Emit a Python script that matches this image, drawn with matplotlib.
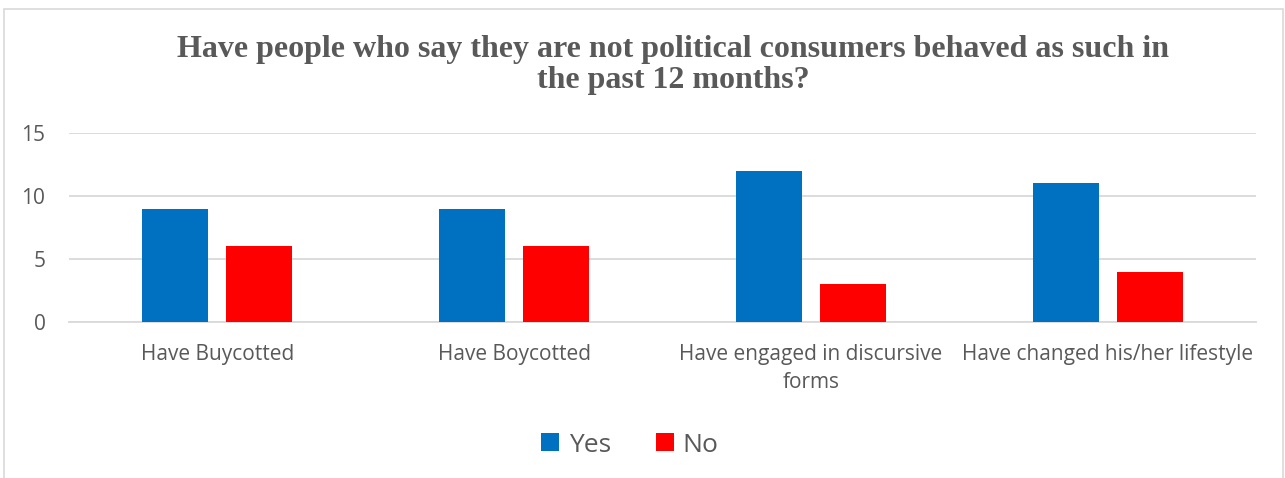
import matplotlib
matplotlib.use("Agg")
import matplotlib.pyplot as plt
from matplotlib.patches import Rectangle
import numpy as np

categories = ["Have Buycotted", "Have Boycotted", "Have engaged in discursive\nforms", "Have changed his/her lifestyle"]
yes_values = [9, 9, 12, 11]
no_values = [6, 6, 3, 4]
series_names = ["Yes", "No"]
yticks = [0, 5, 10, 15]

W, H = 1285, 478
fig = plt.figure(figsize=(W / 100, H / 100), dpi=100)
fig.patch.set_facecolor("white")

# outer chart frame
fig.patches.append(Rectangle((4 / W, -0.05), (1283 - 4) / W, 1 - 9 / H + 0.05,
                             transform=fig.transFigure, fill=False,
                             edgecolor="#D9D9D9", linewidth=1.2))

ax = fig.add_axes([69 / W, 1 - 322 / H, (1256 - 69) / W, (322 - 133) / H])
x = np.arange(len(categories))
bw = 0.222
off = 0.1415
ax.bar(x - off, yes_values, bw, color="#0070C0", label=series_names[0], zorder=3)
ax.bar(x + off, no_values, bw, color="#FF0000", label=series_names[1], zorder=3)

ax.set_xlim(-0.5, len(categories) - 0.5)
ax.set_ylim(0, 15)
ax.set_yticks(yticks)
ax.yaxis.grid(True, color="#D9D9D9", linewidth=1.3, zorder=0)
ax.set_axisbelow(True)
for s in ["top", "right", "left"]:
    ax.spines[s].set_visible(False)
ax.spines["bottom"].set_color("#D9D9D9")
ax.spines["bottom"].set_linewidth(1.3)
ax.tick_params(axis="both", length=0, labelsize=15, labelcolor="#595959")
ax.tick_params(axis="y", pad=17)
ax.tick_params(axis="x", pad=16)
ax.set_xticks(x)
ax.set_xticklabels(categories, fontfamily="Open Sans", linespacing=1.45)
for lab in ax.get_yticklabels():
    lab.set_fontfamily("Open Sans")

fig.text(673 / W, 1 - 65 / H,
         "Have people who say they are not political consumers behaved as such in\nthe past 12 months?",
         ha="center", va="center", fontsize=23, fontweight="bold",
         fontfamily="Liberation Serif", color="#595959", linespacing=1.12)

leg = fig.legend(loc="center", bbox_to_anchor=(630 / W, 1 - 445 / H), ncol=2,
                 frameon=False, prop={"family": "Open Sans", "size": 19},
                 handlelength=0.68, handleheight=0.68, handletextpad=0.35,
                 columnspacing=1.7)
for t in leg.get_texts():
    t.set_color("#595959")

fig.savefig("out.png", dpi=100)
